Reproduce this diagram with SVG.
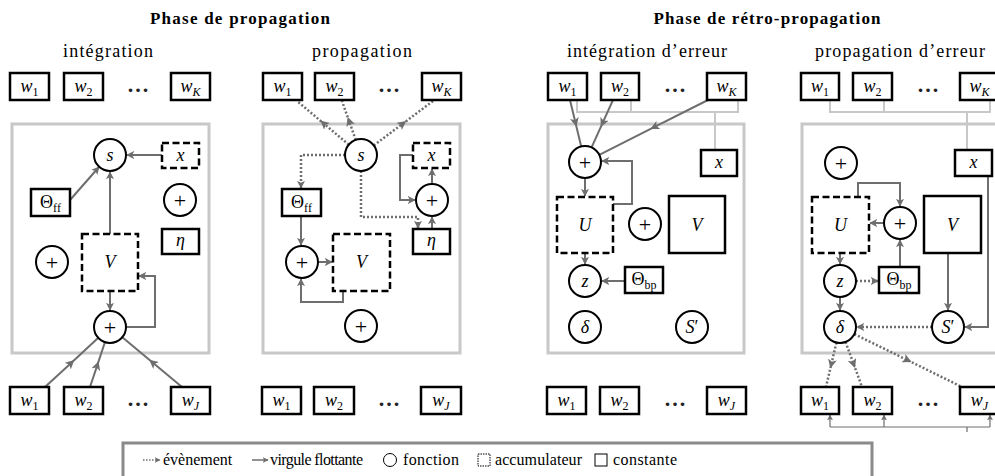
<svg xmlns="http://www.w3.org/2000/svg" width="995" height="476" viewBox="0 0 995 476">
<style>
text{font-family:"Liberation Serif","Times New Roman",serif;fill:#000}
.t{font-size:17px;font-weight:bold}
.st{font-size:18px}
.lb{font-size:18px;text-anchor:middle}
.it{font-style:italic}
.sub{font-size:12px}
.pl{font-size:22px;text-anchor:middle}
.dots{font-size:22px;font-weight:bold;text-anchor:middle;letter-spacing:2px;fill:#222}
.k{fill:#fff;stroke:#000;stroke-width:2.5}
.a{fill:#fff;stroke:#000;stroke-width:2.5;stroke-dasharray:7 3.5}
.f{fill:#fff;stroke:#000;stroke-width:2}
.p{fill:none;stroke:#c8c8c8;stroke-width:3}
.g{fill:none;stroke:#c8c8c8;stroke-width:2}
.c{fill:none;stroke:#6e6e6e;stroke-width:2;marker-end:url(#ah)}
.e{fill:none;stroke:#6e6e6e;stroke-width:2.5;stroke-dasharray:2 2;marker-end:url(#ah)}
.cm{fill:none;stroke:#6e6e6e;stroke-width:2;marker-mid:url(#am)}
.em{fill:none;stroke:#6e6e6e;stroke-width:2.5;stroke-dasharray:2 2;marker-mid:url(#am)}
.thin{fill:none;stroke:#6e6e6e;stroke-width:1.2}
.thinA{fill:none;stroke:#6e6e6e;stroke-width:1.2;marker-end:url(#as)}
.lg{font-size:16px}
</style>
<defs>
<marker id="ah" viewBox="0 0 10 10" refX="9" refY="5" markerWidth="8" markerHeight="8" markerUnits="userSpaceOnUse" orient="auto"><path d="M0,0 L10,5 L0,10 L2.5,5 z" fill="#6e6e6e"/></marker>
<marker id="am" viewBox="0 0 10 10" refX="6" refY="5" markerWidth="9" markerHeight="9" markerUnits="userSpaceOnUse" orient="auto"><path d="M0,0 L10,5 L0,10 L2.5,5 z" fill="#6e6e6e"/></marker>
<marker id="as" viewBox="0 0 10 10" refX="9" refY="5" markerWidth="6" markerHeight="6" markerUnits="userSpaceOnUse" orient="auto"><path d="M0,0 L10,5 L0,10 L2.5,5 z" fill="#6e6e6e"/></marker>
</defs>

<g id="titles">
<text class="t" x="240" y="24" text-anchor="middle" textLength="180">Phase de propagation</text>
<text class="t" x="767" y="24" text-anchor="middle" textLength="227">Phase de rétro-propagation</text>
<text class="st" x="108" y="57" text-anchor="middle" textLength="90">intégration</text>
<text class="st" x="362" y="57" text-anchor="middle" textLength="100">propagation</text>
<text class="st" x="647" y="57" text-anchor="middle" textLength="160">intégration d’erreur</text>
<text class="st" x="900" y="57" text-anchor="middle" textLength="170">propagation d’erreur</text>
</g>

<g id="frames">
<rect class="p" x="12" y="124" width="197" height="229"/>
<rect class="p" x="263" y="124" width="197" height="229"/>
<rect class="p" x="548" y="124" width="196" height="229"/>
<rect class="p" x="802" y="124" width="220" height="229"/>
</g>

<g id="connectors">
<path class="c" d="M110,234 L110,172"/>
<path class="c" d="M70,200 L99,167"/>
<path class="c" d="M162,155 L127,155"/>
<path class="c" d="M110,291 L110,310"/>
<path class="c" d="M126,327 L155,327 L155,276 L139,276"/>
<path class="cm" d="M45,387 L71.7,362.4 L98.3,337.8"/>
<path class="cm" d="M90,387 L97.5,364.6 L104.9,342.2"/>
<path class="cm" d="M182,387 L152,362 L122.3,337.2"/>
<path class="em" d="M348.8,144.7 L323,122.9 L297,101"/>
<path class="em" d="M355.7,139.9 L348.9,120.5 L342,101"/>
<path class="em" d="M373.8,145.4 L403.4,123.2 L433,101"/>
<path class="e" d="M345,155 L301,155 L301,188"/>
<path class="e" d="M361,171 L361,217 L418,217 L418,228"/>
<path class="c" d="M301,216 L301,245"/>
<path class="c" d="M318,262 L332,262"/>
<path class="c" d="M343,291 L343,302 L301,302 L301,279"/>
<path class="c" d="M432,229 L432,217"/>
<path class="c" d="M432,184 L432,169"/>
<path class="c" d="M413,155 L400,155 L400,200 L415,200"/>
<path class="g" d="M577,100 L577,112 L738,112 L738,100 M631,100 L631,112 M715,112 L715,150"/>
<path class="cm" d="M570,100 L575.6,123.2 L581.2,146.4"/>
<path class="cm" d="M613,100 L602.3,123.7 L591.6,147.4"/>
<path class="cm" d="M708,100 L653.6,127.4 L599.3,154.8"/>
<path class="c" d="M585,178 L585,196"/>
<path class="c" d="M613,204 L632,204 L632,161 L602,161"/>
<path class="c" d="M585,253 L585,264"/>
<path class="c" d="M625,281 L602,281"/>
<path class="g" d="M830,100 L830,112 L990,112 L990,100 M884,100 L884,112 M967,112 L967,150"/>
<path class="c" d="M858,197 L858,183 L900,183 L900,206"/>
<path class="c" d="M884,223 L870,223"/>
<path class="c" d="M988,176 L988,327 L965,327"/>
<path class="c" d="M948,253 L948,310"/>
<path class="c" d="M900,267 L900,240"/>
<path class="c" d="M840,253 L840,264"/>
<path class="e" d="M856,281 L878,281"/>
<path class="c" d="M840,297 L840,310"/>
<path class="e" d="M932,327 L857,327"/>
<path class="em" d="M836.4,342.6 L831.2,364.8 L826,387"/>
<path class="em" d="M845.5,342 L853.8,364.5 L862,387"/>
<path class="em" d="M854.4,334.1 L908.2,360.5 L962,387"/>
<path class="thin" d="M830,427 L990,427 M967,427 L967,432"/>
<path class="thinA" d="M830,427 L830,415"/>
<path class="thinA" d="M884,427 L884,415"/>
<path class="thinA" d="M990,427 L990,415"/>
</g>

<g id="p1-w1"><rect class="k" x="10" y="73" width="39" height="27"/><text class="lb" x="29.5" y="92"><tspan class="it">w</tspan><tspan class="sub" dy="4">1</tspan></text></g>
<g id="p1-w2"><rect class="k" x="64" y="73" width="39" height="27"/><text class="lb" x="83.5" y="92"><tspan class="it">w</tspan><tspan class="sub" dy="4">2</tspan></text></g>
<g id="p1-dots"><text class="dots" x="139" y="92">...</text></g>
<g id="p1-wK"><rect class="k" x="171" y="73" width="39" height="27"/><text class="lb" x="190.5" y="92"><tspan class="it">w</tspan><tspan class="sub it" dy="4">K</tspan></text></g>
<g id="p1-s"><circle class="f" cx="110" cy="155" r="16"/><text class="lb it" x="110" y="161">s</text></g>
<g id="p1-x"><rect class="a" x="162" y="143" width="37" height="25"/><text class="lb it" x="180.5" y="161">x</text></g>
<g id="p1-theta"><rect class="k" x="31" y="189" width="39" height="27"/><text class="lb" x="50.5" y="208">Θ<tspan class="sub" dy="4">ff</tspan></text></g>
<g id="p1-plus1"><circle class="f" cx="180" cy="200" r="16"/><text class="pl" x="180" y="208">+</text></g>
<g id="p1-eta"><rect class="k" x="162" y="229" width="37" height="25"/><text class="lb it" x="180.5" y="246">η</text></g>
<g id="p1-plus2"><circle class="f" cx="52" cy="262" r="16"/><text class="pl" x="52" y="270">+</text></g>
<g id="p1-V"><rect class="a" x="82" y="234" width="56" height="57"/><text class="lb it" x="110" y="268">V</text></g>
<g id="p1-plus3"><circle class="f" cx="110" cy="327" r="16"/><text class="pl" x="110" y="335">+</text></g>
<g id="p1-bw1"><rect class="k" x="10" y="387" width="39" height="27"/><text class="lb" x="29.5" y="406"><tspan class="it">w</tspan><tspan class="sub" dy="4">1</tspan></text></g>
<g id="p1-bw2"><rect class="k" x="64" y="387" width="39" height="27"/><text class="lb" x="83.5" y="406"><tspan class="it">w</tspan><tspan class="sub" dy="4">2</tspan></text></g>
<g id="p1-bdots"><text class="dots" x="139" y="406">...</text></g>
<g id="p1-bwJ"><rect class="k" x="171" y="387" width="39" height="27"/><text class="lb" x="190.5" y="406"><tspan class="it">w</tspan><tspan class="sub it" dy="4">J</tspan></text></g>

<g id="p2-w1"><rect class="k" x="263" y="73" width="39" height="27"/><text class="lb" x="282.5" y="92"><tspan class="it">w</tspan><tspan class="sub" dy="4">1</tspan></text></g>
<g id="p2-w2"><rect class="k" x="315" y="73" width="39" height="27"/><text class="lb" x="334.5" y="92"><tspan class="it">w</tspan><tspan class="sub" dy="4">2</tspan></text></g>
<g id="p2-dots"><text class="dots" x="390" y="92">...</text></g>
<g id="p2-wK"><rect class="k" x="422" y="73" width="39" height="27"/><text class="lb" x="441.5" y="92"><tspan class="it">w</tspan><tspan class="sub it" dy="4">K</tspan></text></g>
<g id="p2-s"><circle class="f" cx="361" cy="155" r="16"/><text class="lb it" x="361" y="161">s</text></g>
<g id="p2-x"><rect class="a" x="413" y="143" width="37" height="25"/><text class="lb it" x="431.5" y="161">x</text></g>
<g id="p2-plus1"><circle class="f" cx="432" cy="200" r="16"/><text class="pl" x="432" y="208">+</text></g>
<g id="p2-theta"><rect class="k" x="282" y="189" width="39" height="27"/><text class="lb" x="301.5" y="208">Θ<tspan class="sub" dy="4">ff</tspan></text></g>
<g id="p2-eta"><rect class="k" x="413" y="229" width="37" height="25"/><text class="lb it" x="431.5" y="246">η</text></g>
<g id="p2-plus2"><circle class="f" cx="302" cy="262" r="16"/><text class="pl" x="302" y="270">+</text></g>
<g id="p2-V"><rect class="a" x="333" y="234" width="57" height="57"/><text class="lb it" x="361.5" y="268">V</text></g>
<g id="p2-plus3"><circle class="f" cx="361" cy="326" r="16"/><text class="pl" x="361" y="334">+</text></g>
<g id="p2-bw1"><rect class="k" x="262" y="387" width="39" height="27"/><text class="lb" x="281.5" y="406"><tspan class="it">w</tspan><tspan class="sub" dy="4">1</tspan></text></g>
<g id="p2-bw2"><rect class="k" x="314" y="387" width="40" height="27"/><text class="lb" x="334" y="406"><tspan class="it">w</tspan><tspan class="sub" dy="4">2</tspan></text></g>
<g id="p2-bdots"><text class="dots" x="390" y="406">...</text></g>
<g id="p2-bwJ"><rect class="k" x="421" y="387" width="40" height="27"/><text class="lb" x="441" y="406"><tspan class="it">w</tspan><tspan class="sub it" dy="4">J</tspan></text></g>

<g id="p3-w1"><rect class="k" x="548" y="73" width="39" height="27"/><text class="lb" x="567.5" y="92"><tspan class="it">w</tspan><tspan class="sub" dy="4">1</tspan></text></g>
<g id="p3-w2"><rect class="k" x="601" y="73" width="38" height="27"/><text class="lb" x="620" y="92"><tspan class="it">w</tspan><tspan class="sub" dy="4">2</tspan></text></g>
<g id="p3-dots"><text class="dots" x="676" y="92">...</text></g>
<g id="p3-wK"><rect class="k" x="707" y="73" width="39" height="27"/><text class="lb" x="726.5" y="92"><tspan class="it">w</tspan><tspan class="sub it" dy="4">K</tspan></text></g>
<g id="p3-plus1"><circle class="f" cx="585" cy="162" r="16"/><text class="pl" x="585" y="170">+</text></g>
<g id="p3-x"><rect class="k" x="701" y="150" width="36" height="26"/><text class="lb it" x="719" y="168">x</text></g>
<g id="p3-U"><rect class="a" x="557" y="197" width="56" height="56"/><text class="lb it" x="585" y="231">U</text></g>
<g id="p3-plus2"><circle class="f" cx="645" cy="224" r="16"/><text class="pl" x="645" y="232">+</text></g>
<g id="p3-V"><rect class="k" x="669" y="196" width="56" height="57"/><text class="lb it" x="697" y="231">V</text></g>
<g id="p3-z"><circle class="f" cx="585" cy="281" r="16"/><text class="lb it" x="585" y="287">z</text></g>
<g id="p3-theta"><rect class="k" x="625" y="267" width="38" height="26"/><text class="lb" x="644" y="285">Θ<tspan class="sub" dy="4">bp</tspan></text></g>
<g id="p3-delta"><circle class="f" cx="585" cy="327" r="16"/><text class="lb it" x="585" y="333">δ</text></g>
<g id="p3-S"><circle class="f" cx="692" cy="327" r="16"/><text class="lb" x="692" y="333"><tspan class="it">S</tspan>′</text></g>
<g id="p3-bw1"><rect class="k" x="547" y="387" width="39" height="27"/><text class="lb" x="566.5" y="406"><tspan class="it">w</tspan><tspan class="sub" dy="4">1</tspan></text></g>
<g id="p3-bw2"><rect class="k" x="600" y="387" width="39" height="27"/><text class="lb" x="619.5" y="406"><tspan class="it">w</tspan><tspan class="sub" dy="4">2</tspan></text></g>
<g id="p3-bdots"><text class="dots" x="676" y="406">...</text></g>
<g id="p3-bwJ"><rect class="k" x="707" y="387" width="39" height="27"/><text class="lb" x="726.5" y="406"><tspan class="it">w</tspan><tspan class="sub it" dy="4">J</tspan></text></g>

<g id="p4-w1"><rect class="k" x="801" y="73" width="38" height="27"/><text class="lb" x="820" y="92"><tspan class="it">w</tspan><tspan class="sub" dy="4">1</tspan></text></g>
<g id="p4-w2"><rect class="k" x="853" y="73" width="39" height="27"/><text class="lb" x="872.5" y="92"><tspan class="it">w</tspan><tspan class="sub" dy="4">2</tspan></text></g>
<g id="p4-dots"><text class="dots" x="929" y="92">...</text></g>
<g id="p4-wK"><rect class="k" x="960" y="73" width="39" height="27"/><text class="lb" x="979.5" y="92"><tspan class="it">w</tspan><tspan class="sub it" dy="4">K</tspan></text></g>
<g id="p4-plus1"><circle class="f" cx="841" cy="163" r="16"/><text class="pl" x="841" y="171">+</text></g>
<g id="p4-x"><rect class="k" x="955" y="150" width="37" height="26"/><text class="lb it" x="973.5" y="168">x</text></g>
<g id="p4-U"><rect class="a" x="812" y="197" width="57" height="56"/><text class="lb it" x="840.5" y="231">U</text></g>
<g id="p4-plus2"><circle class="f" cx="900" cy="223" r="16"/><text class="pl" x="900" y="231">+</text></g>
<g id="p4-V"><rect class="k" x="924" y="196" width="57" height="57"/><text class="lb it" x="952.5" y="231">V</text></g>
<g id="p4-z"><circle class="f" cx="840" cy="281" r="16"/><text class="lb it" x="840" y="287">z</text></g>
<g id="p4-theta"><rect class="k" x="879" y="267" width="40" height="26"/><text class="lb" x="899" y="285">Θ<tspan class="sub" dy="4">bp</tspan></text></g>
<g id="p4-delta"><circle class="f" cx="840" cy="327" r="16"/><text class="lb it" x="840" y="333">δ</text></g>
<g id="p4-S"><circle class="f" cx="948" cy="327" r="16"/><text class="lb" x="948" y="333"><tspan class="it">S</tspan>′</text></g>
<g id="p4-bw1"><rect class="k" x="801" y="387" width="38" height="27"/><text class="lb" x="820" y="406"><tspan class="it">w</tspan><tspan class="sub" dy="4">1</tspan></text></g>
<g id="p4-bw2"><rect class="k" x="853" y="387" width="39" height="27"/><text class="lb" x="872.5" y="406"><tspan class="it">w</tspan><tspan class="sub" dy="4">2</tspan></text></g>
<g id="p4-bdots"><text class="dots" x="929" y="406">...</text></g>
<g id="p4-bwJ"><rect class="k" x="960" y="387" width="39" height="27"/><text class="lb" x="979.5" y="406"><tspan class="it">w</tspan><tspan class="sub it" dy="4">J</tspan></text></g>

<g id="legend">
<rect x="123" y="443" width="749" height="40" fill="#fff" stroke="#8a8a8a" stroke-width="3"/>
<path d="M143,460 L160,460" fill="none" stroke="#6e6e6e" stroke-width="1.5" stroke-dasharray="1.5 1.5" marker-end="url(#as)"/>
<text class="lg" x="163" y="465">évènement</text>
<path d="M252,460 L268,460" fill="none" stroke="#6e6e6e" stroke-width="1.5" marker-end="url(#as)"/>
<text class="lg" x="270" y="465" textLength="93">virgule flottante</text>
<circle cx="390" cy="460" r="6.5" fill="none" stroke="#000" stroke-width="1"/>
<text class="lg" x="403" y="465" textLength="56">fonction</text>
<rect x="478" y="454" width="12" height="12" fill="none" stroke="#000" stroke-width="1" stroke-dasharray="1.5 1"/>
<text class="lg" x="495" y="465" textLength="87">accumulateur</text>
<rect x="595" y="454" width="12" height="12" fill="none" stroke="#000" stroke-width="1"/>
<text class="lg" x="613" y="465" textLength="64">constante</text>
</g>
</svg>
